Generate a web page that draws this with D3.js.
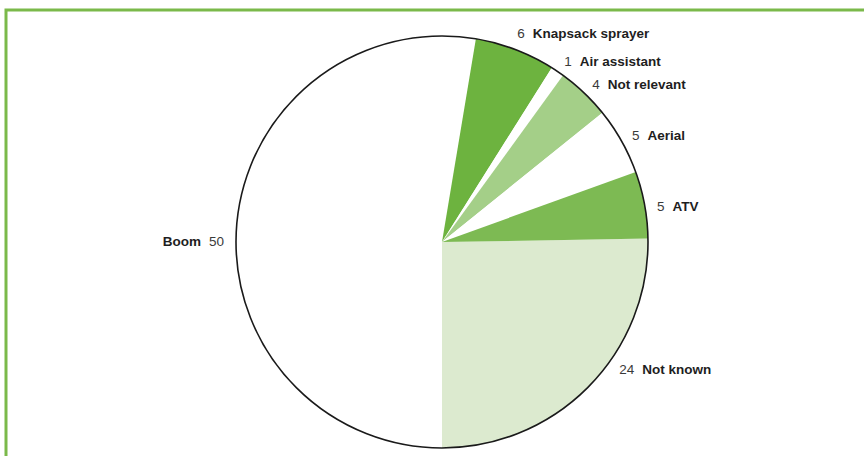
<!DOCTYPE html>
<html>
<head>
<meta charset="utf-8">
<script src="https://cdn.jsdelivr.net/npm/d3@7"></script>
<style>
  html, body { margin: 0; padding: 0; background: #fff; }
  svg { display: block; }
  text { font-family: "Liberation Sans", Arial, Helvetica, sans-serif; font-size: 13.5px; }
</style>
</head>
<body>
<svg id="chart" width="864" height="456"></svg>
<script>
// Slice order as drawn, clockwise starting from the "Not known" slice
var categories = ["Not known", "Boom", "Knapsack sprayer", "Air assistant", "Not relevant", "Aerial", "ATV"];
var values = [24, 50, 6, 1, 4, 5, 5];
var colors = ["#dceacf", "#ffffff", "#6db33f", "#ffffff", "#a4cf88", "#ffffff", "#7dba53"];

var width = 864, height = 456;
var cx = 442, cy = 242, radius = 206;

var svg = d3.select("#chart");

// Green frame (only top and left edges are visible in the crop)
svg.append("rect")
    .attr("x", 6)
    .attr("y", 10)
    .attr("width", width + 20)
    .attr("height", height + 20)
    .attr("fill", "none")
    .attr("stroke", "#7bb94a")
    .attr("stroke-width", 3);

var total = d3.sum(values);
// rotate so that the first slice finishes at six o'clock
var start = Math.PI - values[0] / total * 2 * Math.PI;

var pie = d3.pie()
    .sort(null)
    .value(function(d) { return d; })
    .startAngle(start)
    .endAngle(start + 2 * Math.PI);

var arcs = pie(values);

var arc = d3.arc()
    .innerRadius(0)
    .outerRadius(radius);

var g = svg.append("g")
    .attr("transform", `translate(${cx}, ${cy})`);

g.selectAll(".slice")
    .data(arcs)
    .join("path")
    .attr("class", "slice")
    .attr("fill", function(d, i) { return colors[i]; })
    .attr("d", arc);

// Outer outline only
g.append("circle")
    .attr("r", radius)
    .attr("fill", "none")
    .attr("stroke", "#1a1a1a")
    .attr("stroke-width", 1.6);

// Labels sit just outside the rim; some are nudged (degrees) like the original
var labelRadius = radius + 12;
var labelShift = {"Not known": -8.9, "Boom": -4.5, "Knapsack sprayer": -1, "ATV": 1};

arcs.forEach(function(d, i) {
    var name = categories[i];
    var a = (d.startAngle + d.endAngle) / 2 + (labelShift[name] || 0) * Math.PI / 180;
    var r = name === "Knapsack sprayer" ? labelRadius + 4 : labelRadius;
    var x = Math.sin(a) * r;
    var y = -Math.cos(a) * r;
    var rightSide = Math.sin(a) >= 0;

    var t = g.append("text")
        .attr("x", x)
        .attr("y", y)
        .attr("dy", "0.35em")
        .attr("text-anchor", rightSide ? "start" : "end");

    if (rightSide) {
        t.append("tspan").attr("fill", "#3a3a3a").text(values[i]);
        t.append("tspan").attr("dx", 8).attr("font-weight", "bold").attr("fill", "#1e1e1e").text(name);
    } else {
        t.append("tspan").attr("font-weight", "bold").attr("fill", "#1e1e1e").text(name);
        t.append("tspan").attr("dx", 8).attr("fill", "#3a3a3a").text(values[i]);
    }
});
</script>
</body>
</html>
